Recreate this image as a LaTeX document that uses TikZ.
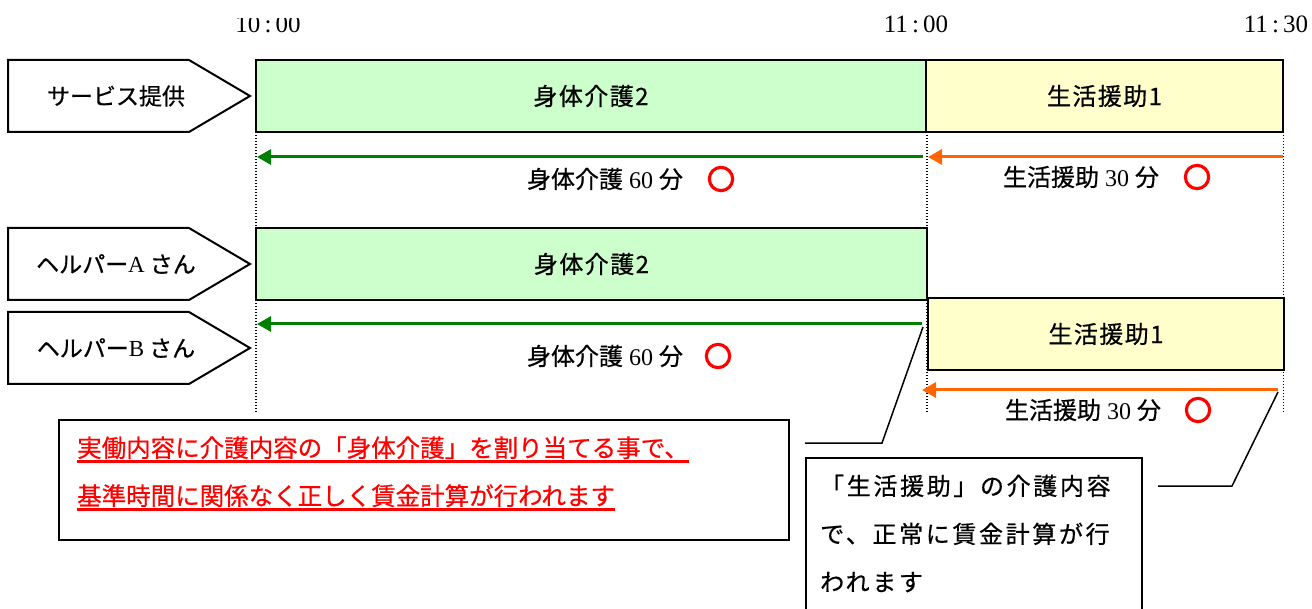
\documentclass[tikz,border=0pt]{standalone}
\usepackage{fontspec}
\setmainfont{Liberation Serif}
\newfontfamily\jp{Noto Sans CJK JP}[FakeBold=0.6]
\newfontfamily\jpwide{Noto Sans CJK JP}[FakeBold=0.6,LetterSpace=6]
\newfontfamily\jpsp{Noto Sans CJK JP}[FakeBold=0.6,LetterSpace=11]
\newfontfamily\jpmark{Noto Sans CJK JP}[FakeBold=8]
\usetikzlibrary{arrows.meta}
\definecolor{boxgreen}{HTML}{CCFFCC}
\definecolor{boxyellow}{HTML}{FFFFCC}
\definecolor{arrgreen}{HTML}{008000}
\definecolor{arrorange}{HTML}{FF6600}
\newcommand\redul[1]{\setbox0\hbox{#1}\rlap{\color{red}\rule[-5.5pt]{\wd0}{2.5pt}}\box0}
\newcommand\gap{\hspace{6pt}}
\tikzset{
  timebox/.style={draw=black, line width=2pt, minimum height=72pt, inner sep=0pt,
    font=\jpwide\fontsize{24}{28}\selectfont},
  penta/.style={draw=black, line width=2pt, fill=white, line join=miter},
  lbl/.style={inner sep=0pt, font=\jp\fontsize{23}{27}\selectfont},
  spanlbl/.style={inner sep=0pt, font=\jp\fontsize{24}{28}\selectfont},
  spanG/.style={draw=arrgreen, line width=3pt, -{Triangle[length=14pt,width=15pt]}},
  spanO/.style={draw=arrorange, line width=3pt, -{Triangle[length=14pt,width=15pt]}},
  okmark/.style={inner sep=0pt, text=red, font=\jpmark\fontsize{27}{30}\selectfont},
  guide/.style={line width=1.3pt, dash pattern=on 1.3pt off 1.7pt},
  callout/.style={line width=1.5pt},
  note/.style={draw=black, line width=2pt, inner sep=0pt},
  timelbl/.style={inner sep=0pt, font=\fontsize{25}{30}\selectfont},
  redtxt/.style={anchor=base west, inner sep=0pt, text=red, font=\jp\fontsize{24.5}{28}\selectfont},
  blktxt/.style={anchor=base west, inner sep=0pt, font=\jpsp\fontsize{24}{28}\selectfont}
}
\begin{document}
\begin{tikzpicture}[x=1pt,y=-1pt]
\clip (0,0) rectangle (1312,609);
% time labels
\begin{scope}
  \clip (200,19) rectangle (340,45);
  \node[timelbl] (h10) at (268,24) {10\,:\,00};
\end{scope}
\node[timelbl] (h11) at (916,24) {11\,:\,00};
\node[timelbl] (h1130) at (1276,24) {11\,:\,30};
% dotted guide lines
\coordinate (d1t) at (256,60);  \coordinate (d1b) at (256,413);
\coordinate (d2t) at (927,60);  \coordinate (d2b) at (927,413);
\coordinate (d3t) at (1283.5,60); \coordinate (d3b) at (1283.5,413);
\draw[guide] (d1t) -- (d1b);
\draw[guide] (d2t) -- (d2b);
\draw[guide] (d3t) -- (d3b);
% row labels
\draw[penta] (8,60) -- (189,60) -- (250,96) -- (189,132) -- (8,132) -- cycle;
\node[lbl] (p1) at (116,96) {サービス提供};
\draw[penta] (8,228) -- (189,228) -- (250,264) -- (189,300) -- (8,300) -- cycle;
\node[lbl] (p2) at (116,264) {ヘルパー{\rmfamily A}\hspace{5pt}さん};
\draw[penta] (8,312) -- (189,312) -- (250,348) -- (189,384) -- (8,384) -- cycle;
\node[lbl] (p3) at (116,348) {ヘルパー{\rmfamily B}\hspace{5pt}さん};
% time boxes
\node[timebox, fill=boxgreen, minimum width=670pt] (g1) at (591,96) {身体介護2};
\node[timebox, fill=boxyellow, minimum width=357pt] (y1) at (1104.5,96) {生活援助1};
\node[timebox, fill=boxgreen, minimum width=671pt] (g2) at (591.5,264) {身体介護2};
\node[timebox, fill=boxyellow, minimum width=356pt] (y2) at (1106,334) {生活援助1};
% span arrows
\coordinate (a1s) at (923,157);  \coordinate (a1e) at (257,157);
\coordinate (a2s) at (1283,157); \coordinate (a2e) at (928,157);
\coordinate (a3s) at (922,324);  \coordinate (a3e) at (257,324);
\coordinate (a4s) at (1278,390); \coordinate (a4e) at (922,390);
\draw[spanG] (a1s) -- (a1e);
\draw[spanO] (a2s) -- (a2e);
\draw[spanG] (a3s) -- (a3e);
\draw[spanO] (a4s) -- (a4e);
% span labels
\node[spanlbl] (t1) at (605,179) {身体介護\gap{\rmfamily 60}\gap 分};
\node[okmark] (m1) at (721,179) {○};
\node[spanlbl] (t2) at (1081,177) {生活援助\gap{\rmfamily 30}\gap 分};
\node[okmark] (m2) at (1197,177) {○};
\node[spanlbl] (t3) at (605,356) {身体介護\gap{\rmfamily 60}\gap 分};
\node[okmark] (m3) at (718,356) {○};
\node[spanlbl] (t4) at (1083,410) {生活援助\gap{\rmfamily 30}\gap 分};
\node[okmark] (m4) at (1198,410) {○};
% notes
\node[note, minimum width=730pt, minimum height=120pt] (rb) at (424,480) {};
\node[redtxt] (r1) at (77,457) {\redul{実働内容に介護内容の「身体介護」を割り当てる事で、}};
\node[redtxt] (r2) at (77,505) {\redul{基準時間に関係なく正しく賃金計算が行われます}};
\node[note, minimum width=336pt, minimum height=190pt] (gb) at (974,553) {};
\node[blktxt] (b1) at (820,495) {「生活援助」の介護内容};
\node[blktxt] (b2) at (820,543) {で、正常に賃金計算が行};
\node[blktxt] (b3) at (820,591) {われます};
% callout lines
\coordinate (c1a) at (805,443); \coordinate (c1b) at (882,443); \coordinate (c1c) at (923,327);
\draw[callout] (c1a) -- (c1b) -- (c1c);
\coordinate (c2a) at (1158,486); \coordinate (c2b) at (1232,486); \coordinate (c2c) at (1278,392);
\draw[callout] (c2a) -- (c2b) -- (c2c);
\end{tikzpicture}
\end{document}
